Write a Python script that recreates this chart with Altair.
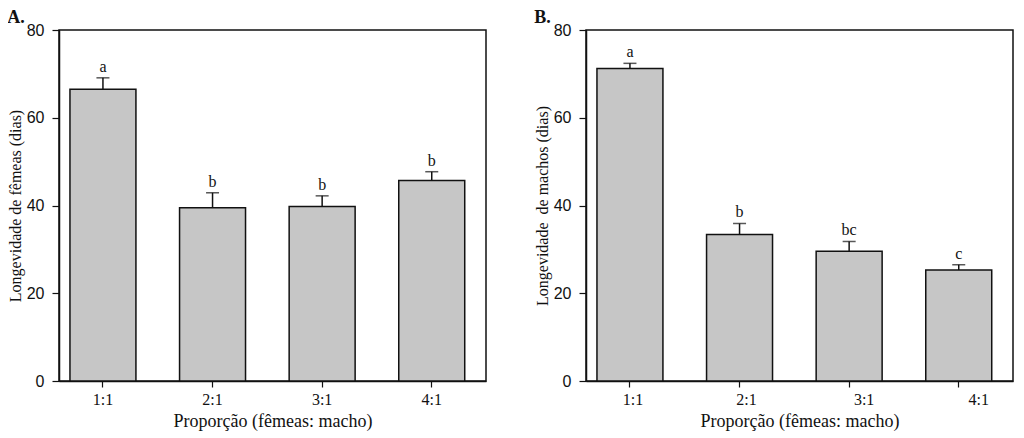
import altair as alt
import pandas as pd

categories = ["1:1", "2:1", "3:1", "4:1"]

femeas_mean = [66.5, 39.5, 39.8, 45.7]
femeas_se = [2.6, 3.4, 2.4, 2.0]
femeas_letters = ["a", "b", "b", "b"]

machos_mean = [71.2, 33.4, 29.6, 25.3]
machos_se = [1.2, 2.5, 2.2, 1.2]
machos_letters = ["a", "b", "bc", "c"]

SERIF = "Liberation Serif"
SANS = "Liberation Sans"


def panel(means, ses, letters, ytitle, ptitle, label_offset):
    df = pd.DataFrame({"cat": categories, "mean": means, "se": ses, "letter": letters})
    base = alt.Chart(df).transform_calculate(upper="datum.mean + datum.se")
    x = alt.X(
        "cat:N",
        sort=categories,
        scale=alt.Scale(paddingInner=0.398, paddingOuter=0.147, align=0.34),
        axis=alt.Axis(
            title="Proporção (fêmeas: macho)",
            labelAngle=0,
            labelFont=SERIF,
            labelFontSize=16,
            labelColor="#111",
            labelPadding=4,
            labelOffset=label_offset,
            tickSize=6,
            tickColor="#111",
            tickWidth=1.2,
            domainColor="#111",
            domainWidth=1.5,
            titleFont=SERIF,
            titleFontSize=18,
            titleFontWeight="normal",
            titleColor="#111",
            titlePadding=5,
        ),
    )
    y = alt.Y(
        "mean:Q",
        scale=alt.Scale(domain=[0, 80], nice=False),
        axis=alt.Axis(
            title=ytitle,
            values=[0, 20, 40, 60, 80],
            grid=False,
            labelFont=SANS,
            labelFontSize=16,
            labelColor="#111",
            labelPadding=8,
            tickSize=7,
            tickColor="#111",
            tickWidth=1.2,
            domainColor="#111",
            domainWidth=1.5,
            titleFont=SERIF,
            titleFontSize=16,
            titleFontWeight="normal",
            titleColor="#111",
            titlePadding=3,
        ),
    )
    bars = base.mark_bar(color="#c6c6c6", stroke="#111", strokeWidth=1.5).encode(x=x, y=y)
    rule = base.mark_rule(color="#111", strokeWidth=1.5).encode(
        x=alt.X("cat:N", sort=categories), y="mean:Q", y2="upper:Q"
    )
    cap = base.mark_tick(color="#111", thickness=1.5, size=13).encode(
        x=alt.X("cat:N", sort=categories), y="upper:Q"
    )
    text = base.mark_text(
        baseline="bottom", dy=-3, font=SERIF, fontSize=16, color="#111"
    ).encode(x=alt.X("cat:N", sort=categories), y="upper:Q", text="letter:N")
    return alt.layer(bars, rule, cap, text).properties(
        width=427,
        height=351,
        title=alt.TitleParams(
            text=ptitle,
            anchor="start",
            frame="bounds",
            font=SERIF,
            fontSize=18,
            fontWeight="bold",
            color="#111",
            offset=-5,
        ),
    )


offB = {
    "condition": [
        {"test": "datum.value === '2:1'", "value": 7},
        {"test": "datum.value === '3:1'", "value": 15},
        {"test": "datum.value === '4:1'", "value": 20},
    ],
    "value": 3,
}

chartA = panel(femeas_mean, femeas_se, femeas_letters, "Longevidade de fêmeas (dias)", "A.", 0)
chartB = panel(machos_mean, machos_se, machos_letters, "Longevidade\u00a0 de machos (dias)", "B.", offB)

chart = (
    alt.hconcat(chartA, chartB, spacing=46)
    .properties(padding={"left": -2, "top": 0, "right": 0, "bottom": 0}, background="white")
    .configure_view(stroke="#111", strokeWidth=1.5)
)

chart.save("out.html", embed_options={"renderer": "svg", "actions": False})
